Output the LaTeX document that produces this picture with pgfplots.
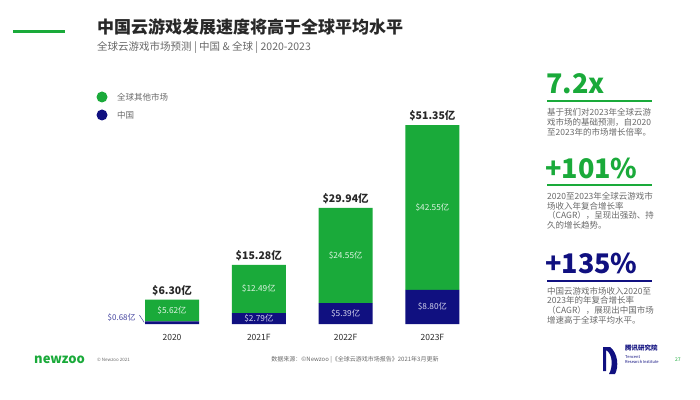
\documentclass[border=0pt]{standalone}
\usepackage{pgfplots}
\pgfplotsset{compat=1.18}
\usepackage{fontspec}
\setmainfont{Noto Sans CJK SC}
\definecolor{cgreen}{RGB}{26,170,58}
\definecolor{cnavy}{RGB}{16,16,128}
\definecolor{tgray}{RGB}{105,105,105}
\definecolor{dtext}{RGB}{40,40,40}
\definecolor{lnavy}{RGB}{70,70,160}
\definecolor{ingreen}{RGB}{222,244,226}
\definecolor{innavy}{RGB}{210,210,235}
\tikzset{
  tot/.style={font=\fontsize{10.5}{12}\selectfont\bfseries, text=dtext, inner sep=0pt},
  ing/.style={font=\fontsize{8.3}{10}\selectfont, text=ingreen, inner sep=0pt},
  inn/.style={font=\fontsize{8.3}{10}\selectfont, text=innavy, inner sep=0pt},
  lw/.style={anchor=west, inner sep=0pt},
  body/.style={anchor=west, inner sep=0pt, font=\fontsize{8.5}{10}\selectfont, text=tgray}
}
\begin{document}
\begin{tikzpicture}[x=1pt,y=1pt]
\fill[white] (0,0) rectangle (700,399);
% title
\draw[cgreen, line width=3pt] (13,367) -- (65,367);
\node[lw, font=\fontsize{17}{20}\selectfont\bfseries, text=dtext] at (97,372) {中国云游戏发展速度将高于全球平均水平};
\node[lw, font=\fontsize{10.5}{12}\selectfont, text=tgray] at (97,351) {全球云游戏市场预测 | 中国 \& 全球 | 2020-2023};
% legend
\fill[cgreen] (102,302) circle (5.5);
\node[lw, font=\fontsize{8.5}{10}\selectfont, text=tgray] at (117,302) {全球其他市场};
\fill[cnavy] (102,284) circle (5.5);
\node[lw, font=\fontsize{8.5}{10}\selectfont, text=tgray] at (117,284) {中国};
% right panel
\node[lw, font=\fontsize{27}{30}\selectfont\bfseries, text=cgreen] at (546,315) {7.2x};
\draw[cgreen, line width=2pt] (547,298) -- (652,298);
\node[body] at (547,287) {基于我们对2023年全球云游};
\node[body] at (547,277) {戏市场的基础预测，自2020};
\node[body] at (547,267) {至2023年的市场增长倍率。};
\node[body] at (547,202.5) {2020至2023年全球云游戏市};
\node[body] at (547,193) {场收入年复合增长率};
\node[body] at (547,183.5) {（CAGR），呈现出强劲、持};
\node[body] at (547,174) {久的增长趋势。};
\node[body] at (547,108) {中国云游戏市场收入2020至};
\node[body] at (547,98.3) {2023年的年复合增长率};
\node[body] at (547,89) {（CAGR），展现出中国市场};
\node[body] at (547,78.7) {增速高于全球平均水平。};
\node[lw, font=\fontsize{27}{30}\selectfont\bfseries, text=cgreen] at (545,231) {+101\%};
\draw[cgreen, line width=2pt] (547,214) -- (652,214);
\node[lw, font=\fontsize{27}{30}\selectfont\bfseries, text=cnavy] at (545,136) {+135\%};
\draw[cnavy, line width=2pt] (547,118.3) -- (652,118.3);
% footer
\node[lw, font=\fontsize{13}{15}\selectfont\bfseries, text=cgreen] at (34,39) {newzoo};
\node[lw, font=\fontsize{4.5}{5}\selectfont, text=tgray] at (97,39) {© Newzoo 2021};
\node[inner sep=0pt, font=\fontsize{6}{7}\selectfont, text=tgray] at (355,39) {数据来源：©Newzoo |《全球云游戏市场报告》2021年3月更新};
\fill[cnavy] (603,52) -- (610,52) .. controls (618,46) and (619,32) .. (615,25) -- (609,25) .. controls (613,32) and (613,45) .. (606,49) -- (606,28) -- (603,28) -- cycle;
\node[lw, font=\fontsize{6.5}{7}\selectfont\bfseries, text=cnavy] at (625,51) {腾讯研究院};
\node[lw, font=\fontsize{4}{4.5}\selectfont, text=cnavy] at (625,42) {Tencent};
\node[lw, font=\fontsize{4}{4.5}\selectfont, text=cnavy] at (625,37) {Research Institute};
\node[lw, font=\fontsize{5}{6}\selectfont, text=cgreen] at (675,39) {27};
% chart
\begin{axis}[at={(128.6pt,75pt)}, anchor=south west, scale only axis,
  width=347.2pt, height=213.1pt, xmin=-0.5, xmax=3.5, ymin=0, ymax=55,
  ybar stacked, bar width=54pt, axis line style={draw=none},
  ytick=\empty, xtick={0,1,2,3}, xticklabels={2020,2021F,2022F,2023F},
  major tick length=0pt,
  xticklabel style={font=\fontsize{8.5}{10}\selectfont, text=dtext, yshift=-7pt},
  clip=false]
\addplot[fill=cnavy, draw=none] coordinates {(0,0.68) (1,2.79) (2,5.39) (3,8.80)};
\addplot[fill=cgreen, draw=none] coordinates {(0,5.62) (1,12.49) (2,24.55) (3,42.55)};
\coordinate (t0) at (axis cs:0,8.6);
\coordinate (t1) at (axis cs:1,17.6);
\coordinate (t2) at (axis cs:2,32.3);
\coordinate (t3) at (axis cs:3,53.7);
\coordinate (g0) at (axis cs:0,3.49);
\coordinate (g1) at (axis cs:1,9.03);
\coordinate (g2) at (axis cs:2,17.66);
\coordinate (g3) at (axis cs:3,30.07);
\coordinate (n1) at (axis cs:1,1.395);
\coordinate (n2) at (axis cs:2,2.695);
\coordinate (n3) at (axis cs:3,4.4);
\coordinate (n0) at (axis cs:-0.58,1.55);
\coordinate (l0a) at (axis cs:-0.375,2.3);
\coordinate (l0b) at (axis cs:-0.32,0.4);
\end{axis}
\node[tot] at (t0) {\textdollar6.30亿};
\node[tot] at (t1) {\textdollar15.28亿};
\node[tot] at (t2) {\textdollar29.94亿};
\node[tot] at (t3) {\textdollar51.35亿};
\node[ing] at (g0) {\textdollar5.62亿};
\node[ing] at (g1) {\textdollar12.49亿};
\node[ing] at (g2) {\textdollar24.55亿};
\node[ing] at (g3) {\textdollar42.55亿};
\node[inn] at (n1) {\textdollar2.79亿};
\node[inn] at (n2) {\textdollar5.39亿};
\node[inn] at (n3) {\textdollar8.80亿};
\node[font=\fontsize{8}{10}\selectfont, text=lnavy, inner sep=0pt] at (n0) {\textdollar0.68亿};
\draw[lnavy, line width=0.5pt] (l0a) -- (l0b);
\end{tikzpicture}
\end{document}
